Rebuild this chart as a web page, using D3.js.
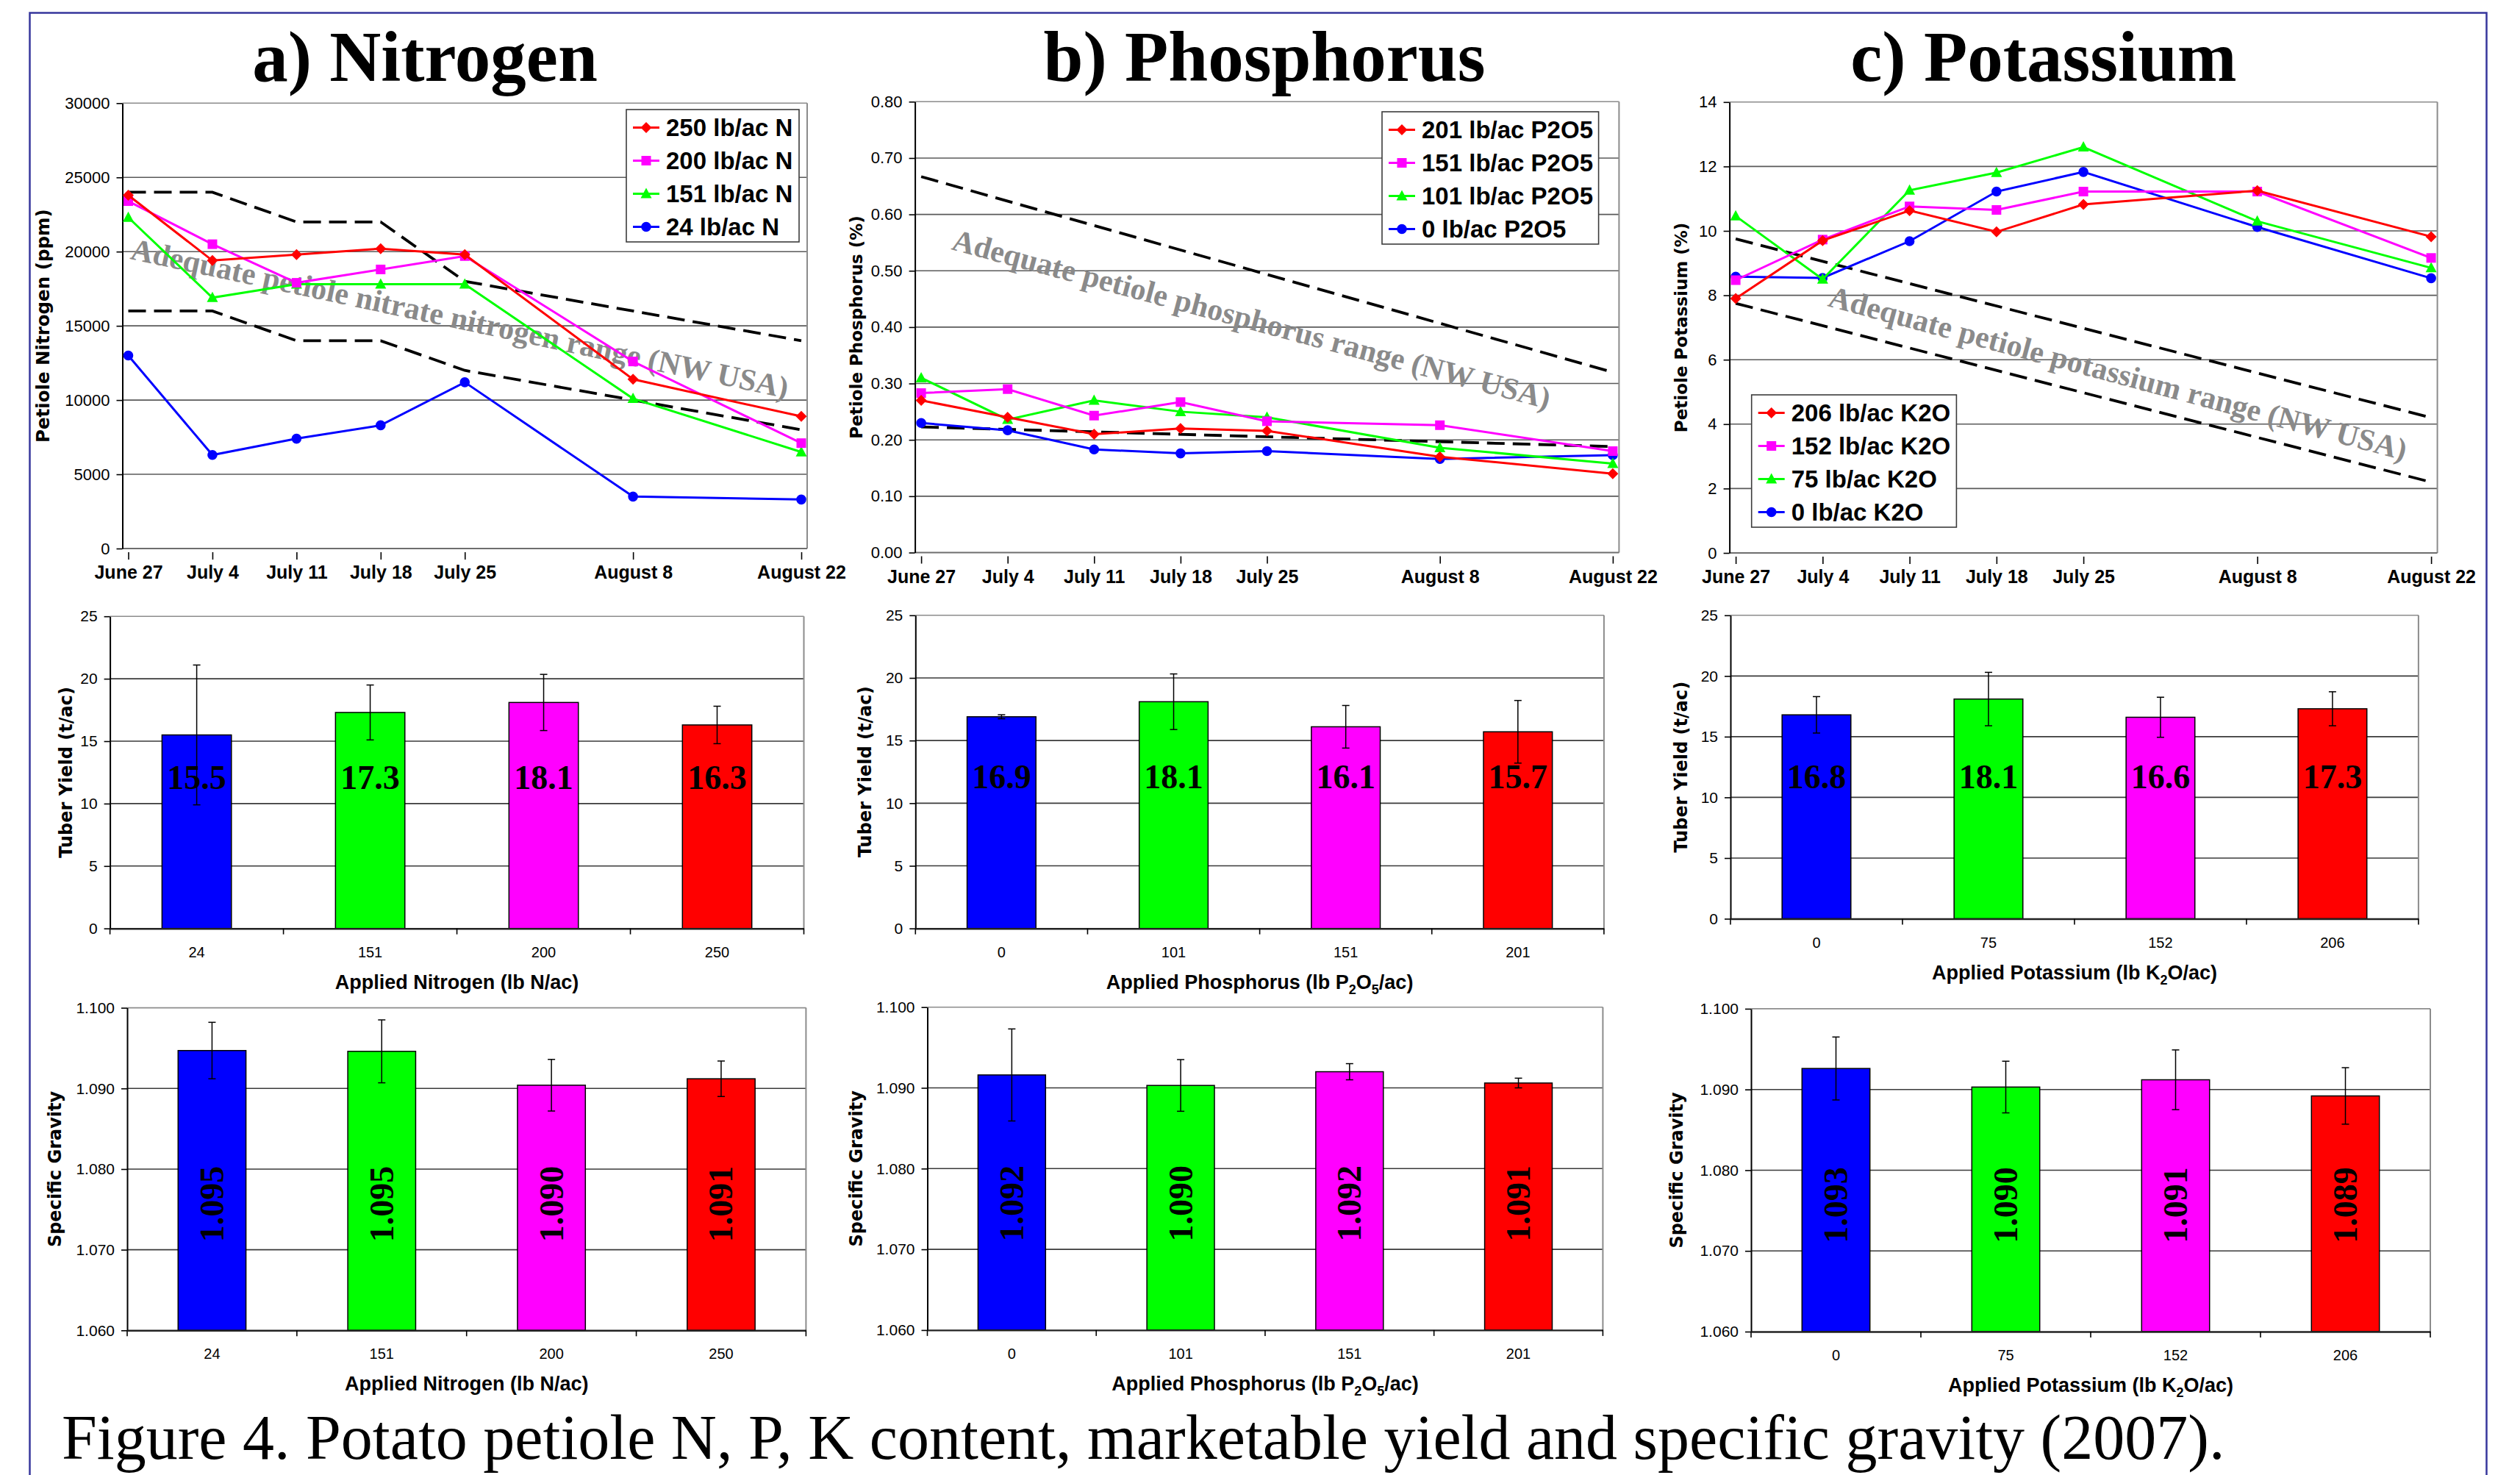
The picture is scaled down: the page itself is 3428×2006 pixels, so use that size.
<!DOCTYPE html>
<html>
<head>
<meta charset="utf-8">
<script src="https://cdn.jsdelivr.net/npm/d3@7"></script>
<style>
  body { margin: 0; background: #fff; }
</style>
</head>
<body>
<svg id="chart" width="3428" height="2006"></svg>
<script>
// petiole sampling dates (2007) and the labels printed under them
const sampleDates = ["2007-06-27", "2007-07-04", "2007-07-11", "2007-07-18", "2007-07-25", "2007-08-08", "2007-08-22"];
const dateLabels = ["June 27", "July 4", "July 11", "July 18", "July 25", "August 8", "August 22"];

// a) nitrogen, petiole nitrate-N (ppm)
const nSeriesNames = ["250 lb/ac N", "200 lb/ac N", "151 lb/ac N", "24 lb/ac N"];
const nPetiole = [
  [23800, 19400, 19800, 20200, 19800, 11400, 8900],
  [23400, 20500, 17900, 18800, 19700, 12600, 7100],
  [22300, 16900, 17800, 17800, 17800, 10100, 6500],
  [13000, 6300, 7400, 8300, 11200, 3500, 3300]
];
const nRangeHigh = [24000, 24000, 22000, 22000, 18000, 16000, 14000];
const nRangeLow = [16000, 16000, 14000, 14000, 12000, 10000, 8000];

// b) phosphorus, petiole P (%)
const pSeriesNames = ["201 lb/ac P2O5", "151 lb/ac P2O5", "101 lb/ac P2O5", "0 lb/ac P2O5"];
const pPetiole = [
  [0.270, 0.240, 0.210, 0.220, 0.216, 0.170, 0.140],
  [0.283, 0.290, 0.243, 0.267, 0.233, 0.226, 0.180],
  [0.310, 0.236, 0.270, 0.250, 0.240, 0.186, 0.158],
  [0.230, 0.217, 0.183, 0.176, 0.180, 0.166, 0.173]
];
// range lines only given at first and last date
const pRangeHigh = [0.667, 0.320];
const pRangeLow = [0.223, 0.188];

// c) potassium, petiole K (%)
const kSeriesNames = ["206 lb/ac K2O", "152 lb/ac K2O", "75 lb/ac K2O", "0 lb/ac K2O"];
const kPetiole = [
  [7.90, 9.70, 10.63, 9.97, 10.82, 11.25, 9.82],
  [8.47, 9.73, 10.76, 10.65, 11.22, 11.22, 9.16],
  [10.46, 8.50, 11.26, 11.81, 12.60, 10.30, 8.85],
  [8.58, 8.54, 9.68, 11.22, 11.83, 10.12, 8.53]
];
const kRangeHigh = [9.75, 4.20];
const kRangeLow = [7.75, 2.20];

// application rates (bar categories)
const nRates = ["24", "151", "200", "250"];
const pRates = ["0", "101", "151", "201"];
const kRates = ["0", "75", "152", "206"];

// tuber yield (t/ac) and error bar half widths
const nYield = [15.5, 17.3, 18.1, 16.3];
const nYieldErr = [5.6, 2.2, 2.25, 1.5];
const pYield = [16.9, 18.1, 16.1, 15.7];
const pYieldErr = [0.16, 2.22, 1.7, 2.5];
const kYield = [16.8, 18.1, 16.6, 17.3];
const kYieldErr = [1.5, 2.2, 1.65, 1.4];

// specific gravity and error bar half widths
const nGravity = [1.0947, 1.0946, 1.0904, 1.0912];
const nGravityErr = [0.0035, 0.0039, 0.0032, 0.0022];
const pGravity = [1.0916, 1.0903, 1.0920, 1.0906];
const pGravityErr = [0.0057, 0.0032, 0.0010, 0.0006];
const kGravity = [1.0926, 1.0903, 1.0912, 1.0892];
const kGravityErr = [0.0039, 0.0032, 0.0037, 0.0035];

const lineColors = ["#ff0000", "#ff00ff", "#00ff00", "#0000ff"];
const lineShapes = ["diamond", "square", "triangle", "circle"];
const barColors = ["#0000ff", "#00ff00", "#ff00ff", "#ff0000"];

const SANS = "'Liberation Sans', Arial, sans-serif";
const SERIF = "'Liberation Serif', 'Times New Roman', serif";
const HEAVY = "'DejaVu Sans', Verdana, sans-serif";

const parseDate = d3.timeParse("%Y-%m-%d");
const dates = sampleDates.map(parseDate);

const svg = d3.select("#chart");
svg.append("rect").attr("width", 3428).attr("height", 2006).attr("fill", "#fff");

// page frame
svg.append("rect")
  .attr("x", 40.5).attr("y", 17.5)
  .attr("width", 3342).attr("height", 2100)
  .attr("fill", "none")
  .attr("stroke", "#36369c")
  .attr("stroke-width", 2.5);

function markerPath(shape) {
  if (shape == "diamond") return "M0,-7.5L7.5,0L0,7.5L-7.5,0Z";
  if (shape == "square") return "M-6.5,-6.5H6.5V6.5H-6.5Z";
  if (shape == "triangle") return "M0,-8L7.5,6L-7.5,6Z";
  return d3.symbol(d3.symbolCircle, Math.PI * 6.8 * 6.8)();
}

/**
 * Petiole nutrient time course with the adequate range band.
 */
function drawLinePanel(p) {
  const g = svg.append("g");
  const x = d3.scaleTime()
    .domain([dates[0], dates[dates.length - 1]])
    .range([p.left + p.pad, p.right - p.pad]);
  const y = d3.scaleLinear().domain([0, p.yMax]).range([p.bottom, p.top]);
  const yTicks = d3.range(0, p.yMax + p.yStep / 2, p.yStep);

  // gridlines
  g.append("g").selectAll("line")
    .data(yTicks.slice(1))
    .enter().append("line")
    .attr("x1", p.left).attr("x2", p.right)
    .attr("y1", function (d) { return y(d); })
    .attr("y2", function (d) { return y(d); })
    .attr("stroke", function (d, i) { return i == yTicks.length - 2 ? "#8c8c8c" : "#5a5a5a"; })
    .attr("stroke-width", 1.6);
  g.append("line")
    .attr("x1", p.right).attr("x2", p.right)
    .attr("y1", p.top).attr("y2", p.bottom)
    .attr("stroke", "#8c8c8c").attr("stroke-width", 2);
  g.append("line")
    .attr("x1", p.left).attr("x2", p.right)
    .attr("y1", p.bottom).attr("y2", p.bottom)
    .attr("stroke", "#6e6e6e").attr("stroke-width", 2.2);

  // y axis
  const ya = g.append("g")
    .attr("transform", "translate(" + p.left + ",0)")
    .call(d3.axisLeft(y).tickValues(yTicks).tickFormat(d3.format(p.yFormat))
      .tickSize(8).tickPadding(9).tickSizeOuter(0));
  ya.select(".domain").attr("stroke", "#000").attr("stroke-width", 2);
  ya.selectAll(".tick line").attr("stroke", "#000").attr("stroke-width", 1.6);
  ya.selectAll("text")
    .attr("font-family", SANS).attr("font-size", 22).attr("fill", "#000");

  // date ticks, hanging a little below the axis
  const xa = g.append("g")
    .attr("transform", "translate(0," + (p.bottom + 5) + ")")
    .call(d3.axisBottom(x).tickValues(dates)
      .tickFormat(function (d, i) { return dateLabels[i]; })
      .tickSize(10).tickSizeOuter(0));
  xa.select(".domain").remove();
  xa.selectAll(".tick line").attr("stroke", "#000").attr("stroke-width", 1.6);
  xa.selectAll("text")
    .attr("y", 36).attr("dy", "0")
    .attr("font-family", SANS).attr("font-size", 25)
    .attr("font-weight", "bold").attr("fill", "#000");

  // annotation text, underneath the data lines
  g.append("text")
    .attr("transform", "translate(" + p.note.x + "," + p.note.y + ") rotate(" + p.note.angle + ")")
    .attr("font-family", SERIF).attr("font-weight", "bold")
    .attr("font-size", 42).attr("fill", "#8a8a8a")
    .text(p.note.text);

  // adequate range, dashed
  const rangeLine = d3.line()
    .x(function (d, i) { return x(p.rangeDates[i]); })
    .y(function (d) { return y(d); });
  [p.rangeHigh, p.rangeLow].forEach(function (r) {
    g.append("path")
      .attr("d", rangeLine(r))
      .attr("fill", "none")
      .attr("stroke", "#000")
      .attr("stroke-width", 3.8)
      .attr("stroke-dasharray", "24,11");
  });

  // series, lowest in legend drawn first so the red one sits on top
  const line = d3.line()
    .x(function (d, i) { return x(dates[i]); })
    .y(function (d) { return y(d); });
  for (let s = p.values.length - 1; s >= 0; s--) {
    g.append("path")
      .attr("d", line(p.values[s]))
      .attr("fill", "none")
      .attr("stroke", lineColors[s])
      .attr("stroke-width", 3);
    g.append("g").selectAll("path")
      .data(p.values[s])
      .enter().append("path")
      .attr("transform", function (d, i) {
        return "translate(" + x(dates[i]) + "," + y(d) + ")";
      })
      .attr("d", markerPath(lineShapes[s]))
      .attr("fill", lineColors[s]);
  }

  // legend
  const lg = g.append("g").attr("transform", "translate(" + p.legend.x + "," + p.legend.y + ")");
  lg.append("rect")
    .attr("width", p.legend.w).attr("height", 180)
    .attr("fill", "#fff").attr("stroke", "#3c3c3c").attr("stroke-width", 1.6);
  p.names.forEach(function (name, i) {
    const row = lg.append("g").attr("transform", "translate(0," + (24.5 + i * 45) + ")");
    row.append("line")
      .attr("x1", 9).attr("x2", 45)
      .attr("stroke", lineColors[i]).attr("stroke-width", 3);
    row.append("path")
      .attr("transform", "translate(27,0)")
      .attr("d", markerPath(lineShapes[i]))
      .attr("fill", lineColors[i]);
    row.append("text")
      .attr("x", 54).attr("y", 11.5)
      .attr("font-family", SANS).attr("font-weight", "bold")
      .attr("font-size", 33).attr("fill", "#000")
      .text(name);
  });

  // y title
  g.append("text")
    .attr("transform", "translate(" + p.yTitleX + "," + ((p.top + p.bottom) / 2) + ") rotate(-90)")
    .attr("text-anchor", "middle").attr("dominant-baseline", "central")
    .attr("font-family", HEAVY).attr("font-weight", "bold")
    .attr("font-size", p.yTitleSize).attr("fill", "#000")
    .text(p.yTitle);

  // panel title
  g.append("text")
    .attr("x", p.titleX).attr("y", 110)
    .attr("text-anchor", "middle")
    .attr("font-family", SERIF).attr("font-weight", "bold")
    .attr("font-size", 97).attr("fill", "#000")
    .text(p.title);
}

/**
 * Bar chart with error bars, one bar per application rate.
 */
function drawBarPanel(p) {
  const g = svg.append("g");
  const x = d3.scaleBand().domain(p.cats).range([p.left, p.right]).padding(0);
  const y = d3.scaleLinear().domain(p.yDomain).range([p.bottom, p.top]);
  const yTicks = d3.range(p.yDomain[0], p.yDomain[1] + p.yStep / 2, p.yStep);
  const bw = x.bandwidth() * 0.4;

  g.append("g").selectAll("line")
    .data(yTicks.slice(1))
    .enter().append("line")
    .attr("x1", p.left).attr("x2", p.right)
    .attr("y1", function (d) { return y(d); })
    .attr("y2", function (d) { return y(d); })
    .attr("stroke", function (d, i) { return i == yTicks.length - 2 ? "#8c8c8c" : "#3a3a3a"; })
    .attr("stroke-width", 1.6);
  g.append("line")
    .attr("x1", p.right).attr("x2", p.right)
    .attr("y1", p.top).attr("y2", p.bottom)
    .attr("stroke", "#8c8c8c").attr("stroke-width", 2);

  // bars
  g.append("g").selectAll("rect")
    .data(p.values)
    .enter().append("rect")
    .attr("x", function (d, i) { return x(p.cats[i]) + (x.bandwidth() - bw) / 2; })
    .attr("y", function (d) { return y(d); })
    .attr("width", bw)
    .attr("height", function (d) { return y(p.yDomain[0]) - y(d); })
    .attr("fill", function (d, i) { return barColors[i]; })
    .attr("stroke", "#000")
    .attr("stroke-width", 1.5);

  // error bars
  const eb = g.append("g").selectAll("g")
    .data(p.values)
    .enter().append("g")
    .attr("transform", function (d, i) {
      return "translate(" + (x(p.cats[i]) + x.bandwidth() / 2) + ",0)";
    });
  eb.append("line")
    .attr("y1", function (d, i) { return y(d - p.errors[i]); })
    .attr("y2", function (d, i) { return y(d + p.errors[i]); })
    .attr("stroke", "#000").attr("stroke-width", 1.5);
  eb.append("line")
    .attr("x1", -5).attr("x2", 5)
    .attr("y1", function (d, i) { return y(d + p.errors[i]); })
    .attr("y2", function (d, i) { return y(d + p.errors[i]); })
    .attr("stroke", "#000").attr("stroke-width", 1.5);
  eb.append("line")
    .attr("x1", -5).attr("x2", 5)
    .attr("y1", function (d, i) { return y(d - p.errors[i]); })
    .attr("y2", function (d, i) { return y(d - p.errors[i]); })
    .attr("stroke", "#000").attr("stroke-width", 1.5);

  // value labels
  eb.append("text")
    .attr("transform", function () {
      return p.rotateLabels
        ? "translate(0," + (p.top + 267) + ") rotate(-90)"
        : "translate(0," + (p.top + 235) + ")";
    })
    .attr("text-anchor", "middle")
    .attr("dominant-baseline", p.rotateLabels ? "central" : "auto")
    .attr("font-family", SERIF).attr("font-weight", "bold")
    .attr("font-size", 46).attr("fill", "#000")
    .text(function (d) { return d.toFixed(p.digits); });

  // y axis
  const ya = g.append("g")
    .attr("transform", "translate(" + p.left + ",0)")
    .call(d3.axisLeft(y).tickValues(yTicks).tickFormat(d3.format(p.yFormat))
      .tickSize(8).tickPadding(9).tickSizeOuter(0));
  ya.select(".domain").attr("stroke", "#000").attr("stroke-width", 2);
  ya.selectAll(".tick line").attr("stroke", "#000").attr("stroke-width", 1.6);
  ya.selectAll("text")
    .attr("font-family", SANS).attr("font-size", 21).attr("fill", "#000");

  // x axis: labels under bars, ticks on the category boundaries
  const xa = g.append("g")
    .attr("transform", "translate(0," + p.bottom + ")")
    .call(d3.axisBottom(x).tickSize(0));
  xa.select(".domain").attr("stroke", "#222").attr("stroke-width", 2.4);
  xa.selectAll("text")
    .attr("y", 39).attr("dy", "0")
    .attr("font-family", SANS).attr("font-size", 20).attr("fill", "#000");
  g.append("g").selectAll("line")
    .data(d3.range(p.cats.length + 1))
    .enter().append("line")
    .attr("x1", function (i) { return p.left + i * x.step(); })
    .attr("x2", function (i) { return p.left + i * x.step(); })
    .attr("y1", p.bottom).attr("y2", p.bottom + 8)
    .attr("stroke", "#000").attr("stroke-width", 1.6);

  // x title; subscripts drop down, the next part comes back up
  const xt = g.append("text")
    .attr("x", (p.left + p.right) / 2).attr("y", p.bottom + 82)
    .attr("text-anchor", "middle")
    .attr("font-family", SANS).attr("font-weight", "bold")
    .attr("font-size", 27).attr("fill", "#000");
  let lowered = false;
  p.xTitle.forEach(function (part) {
    const t = xt.append("tspan").text(part[0]);
    if (part[1]) {
      t.attr("font-size", 18).attr("dy", 7);
      lowered = true;
    } else if (lowered) {
      t.attr("dy", -7);
      lowered = false;
    }
  });

  g.append("text")
    .attr("transform", "translate(" + p.yTitleX + "," + ((p.top + p.bottom) / 2) + ") rotate(-90)")
    .attr("text-anchor", "middle").attr("dominant-baseline", "central")
    .attr("font-family", HEAVY).attr("font-weight", "bold")
    .attr("font-size", 24).attr("fill", "#000")
    .text(p.yTitle);
}

// ---- top row: petiole time courses ----
drawLinePanel({
  left: 166.5, right: 1098, top: 140.3, bottom: 746, pad: 8,
  yMax: 30000, yStep: 5000, yFormat: "d",
  values: nPetiole, names: nSeriesNames,
  rangeDates: dates, rangeHigh: nRangeHigh, rangeLow: nRangeLow,
  note: { x: 176, y: 352, angle: 12, text: "Adequate petiole nitrate nitrogen range (NW USA)" },
  legend: { x: 852, y: 149, w: 235 },
  yTitle: "Petiole Nitrogen (ppm)", yTitleX: 58, yTitleSize: 24.5,
  title: "a) Nitrogen", titleX: 578
});
drawLinePanel({
  left: 1244.6, right: 2202.4, top: 138.3, bottom: 751.5, pad: 8.5,
  yMax: 0.8, yStep: 0.1, yFormat: ".2f",
  values: pPetiole, names: pSeriesNames,
  rangeDates: [dates[0], dates[dates.length - 1]], rangeHigh: pRangeHigh, rangeLow: pRangeLow,
  note: { x: 1293, y: 339, angle: 15, text: "Adequate petiole phosphorus range (NW USA)" },
  legend: { x: 1880, y: 152, w: 294.6 },
  yTitle: "Petiole Phosphorus (%)", yTitleX: 1165, yTitleSize: 23,
  title: "b) Phosphorus", titleX: 1720
});
drawLinePanel({
  left: 2352.6, right: 3315.6, top: 138.8, bottom: 752, pad: 8.5,
  yMax: 14, yStep: 2, yFormat: "d",
  values: kPetiole, names: kSeriesNames,
  rangeDates: [dates[0], dates[dates.length - 1]], rangeHigh: kRangeHigh, rangeLow: kRangeLow,
  note: { x: 2485, y: 416, angle: 15, text: "Adequate petiole potassium range (NW USA)" },
  legend: { x: 2382.7, y: 537, w: 278.7 },
  yTitle: "Petiole Potassium (%)", yTitleX: 2287, yTitleSize: 23,
  title: "c) Potassium", titleX: 2780
});

// ---- middle row: tuber yield ----
drawBarPanel({
  left: 149.6, right: 1093.5, top: 838.2, bottom: 1262.7,
  cats: nRates, values: nYield, errors: nYieldErr,
  yDomain: [0, 25], yStep: 5, yFormat: "d", digits: 1,
  xTitle: [["Applied Nitrogen (lb N/ac)"]],
  yTitle: "Tuber Yield (t/ac)", yTitleX: 90
});
drawBarPanel({
  left: 1245.3, right: 2181.9, top: 836.8, bottom: 1262.7,
  cats: pRates, values: pYield, errors: pYieldErr,
  yDomain: [0, 25], yStep: 5, yFormat: "d", digits: 1,
  xTitle: [["Applied Phosphorus (lb P"], ["2", true], ["O"], ["5", true], ["/ac)"]],
  yTitle: "Tuber Yield (t/ac)", yTitleX: 1177
});
drawBarPanel({
  left: 2354, right: 3289.9, top: 836.8, bottom: 1249.5,
  cats: kRates, values: kYield, errors: kYieldErr,
  yDomain: [0, 25], yStep: 5, yFormat: "d", digits: 1,
  xTitle: [["Applied Potassium (lb K"], ["2", true], ["O/ac)"]],
  yTitle: "Tuber Yield (t/ac)", yTitleX: 2287
});

// ---- bottom row: specific gravity ----
drawBarPanel({
  left: 173, right: 1096.4, top: 1370.6, bottom: 1809.3,
  cats: nRates, values: nGravity, errors: nGravityErr,
  yDomain: [1.06, 1.10], yStep: 0.01, yFormat: ".3f", digits: 3, rotateLabels: true,
  xTitle: [["Applied Nitrogen (lb N/ac)"]],
  yTitle: "Specific Gravity", yTitleX: 75
});
drawBarPanel({
  left: 1261.5, right: 2180.4, top: 1369.7, bottom: 1808.9,
  cats: pRates, values: pGravity, errors: pGravityErr,
  yDomain: [1.06, 1.10], yStep: 0.01, yFormat: ".3f", digits: 3, rotateLabels: true,
  xTitle: [["Applied Phosphorus (lb P"], ["2", true], ["O"], ["5", true], ["/ac)"]],
  yTitle: "Specific Gravity", yTitleX: 1165
});
drawBarPanel({
  left: 2382, right: 3306, top: 1371.9, bottom: 1811,
  cats: kRates, values: kGravity, errors: kGravityErr,
  yDomain: [1.06, 1.10], yStep: 0.01, yFormat: ".3f", digits: 3, rotateLabels: true,
  xTitle: [["Applied Potassium (lb K"], ["2", true], ["O/ac)"]],
  yTitle: "Specific Gravity", yTitleX: 2281
});

// caption, kept just clear of the bottom edge
svg.append("text")
  .attr("x", 84).attr("y", 1984)
  .attr("font-family", SERIF).attr("font-size", 86).attr("fill", "#000")
  .text("Figure 4. Potato petiole N, P, K content, marketable yield and specific gravity (2007).");
</script>
</body>
</html>
